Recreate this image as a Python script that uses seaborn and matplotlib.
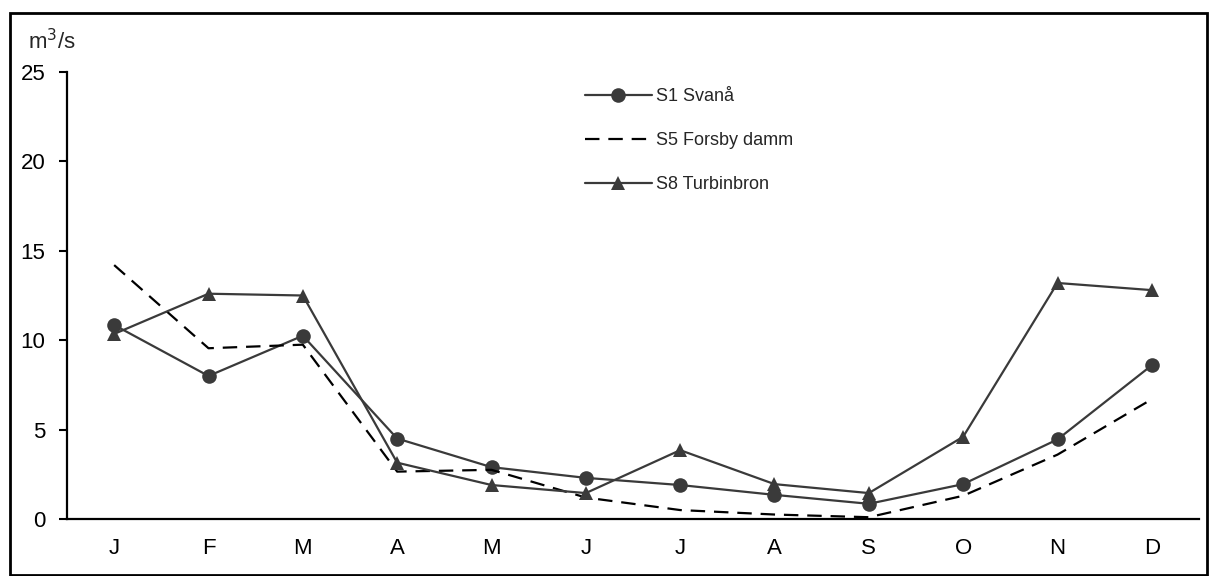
import numpy as np
import pandas as pd
import matplotlib
matplotlib.use("Agg")
import matplotlib.pyplot as plt
import seaborn as sns
from matplotlib.patches import Rectangle

months = ["J", "F", "M", "A", "M", "J", "J", "A", "S", "O", "N", "D"]
s1_svana = [10.85, 8.0, 10.25, 4.5, 2.9, 2.3, 1.9, 1.35, 0.85, 1.95, 4.45, 8.6]
s5_forsby = [14.2, 9.55, 9.75, 2.65, 2.75, 1.2, 0.5, 0.25, 0.1, 1.3, 3.6, 6.7]
s8_turbin = [10.35, 12.6, 12.5, 3.15, 1.9, 1.45, 3.85, 1.95, 1.45, 4.6, 13.2, 12.8]
series_names = ["S1 Svanå", "S5 Forsby damm", "S8 Turbinbron"]
yticks = [0, 5, 10, 15, 20, 25]

sns.set_theme(style="white")
plt.rcParams["font.family"] = ["Liberation Sans", "DejaVu Sans"]

fig = plt.figure(figsize=(12.09, 5.76), dpi=100)
ax = fig.add_axes([67/1209, 1 - 519/576, (1199 - 67)/1209, (519 - 72)/576])

idx = np.arange(len(months))
df = pd.DataFrame({"pos": idx, "S1": s1_svana, "S5": s5_forsby, "S8": s8_turbin})

line_col = "#3a3a3a"
sns.lineplot(data=df, x="pos", y="S1", ax=ax, color=line_col, lw=1.6,
             marker="o", markersize=10.5, markeredgewidth=0, label=series_names[0])
sns.lineplot(data=df, x="pos", y="S5", ax=ax, color="black", lw=1.6,
             dashes=False, label=series_names[1])
ax.lines[-1].set_dashes([6.5, 4])
sns.lineplot(data=df, x="pos", y="S8", ax=ax, color=line_col, lw=1.6,
             marker="^", markersize=10.5, markeredgewidth=0, label=series_names[2])

ax.set_xlim(-0.5, len(months) - 0.5)
ax.set_ylim(0, 25)
ax.set_xticks(idx)
ax.set_xticklabels(months)
ax.set_yticks(yticks)
ax.set_xlabel("")
ax.set_ylabel("")
ax.tick_params(axis="x", length=0, labelsize=16, pad=14, colors="black")
ax.tick_params(axis="y", length=6, width=1.5, direction="out", labelsize=16,
               pad=9.5, colors="black", left=True)
for s in ["top", "right"]:
    ax.spines[s].set_visible(False)
for s in ["left", "bottom"]:
    ax.spines[s].set_color("black")
    ax.spines[s].set_linewidth(1.6)
ax.grid(False)

fig.text(28/1209, 1 - 42/576, "m$^3$/s", fontsize=16, va="center", ha="left")

leg = ax.legend(loc="upper left", bbox_to_anchor=(585/1209, 1 - 88/576),
                bbox_transform=fig.transFigure, frameon=False, fontsize=13,
                handlelength=3.7, handletextpad=0.25, labelspacing=1.5,
                borderpad=0, borderaxespad=0)

fig.patches.append(Rectangle((10/1209, 1/576), 1197/1209, 1 - 13/576 - 1/576,
                             transform=fig.transFigure, fill=False,
                             edgecolor="black", linewidth=2))

fig.savefig("out.png", dpi=100)
